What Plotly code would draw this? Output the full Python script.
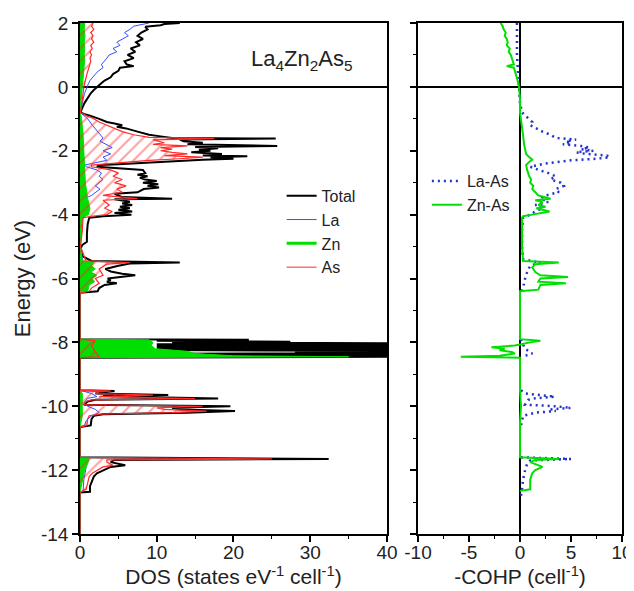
import plotly.graph_objects as go

# ---------------- DOS data (energy in eV, DOS in states/eV/cell) ----------------
total_E = [2.0, 1.97, 1.93, 1.88, 1.8, 1.7, 1.6, 1.5, 1.4, 1.3, 1.2, 1.1, 1.0, 0.9, 0.8, 0.7, 0.65, 0.6, 0.5, 0.4,
           0.3, 0.2, 0.1, 0.0, -0.1, -0.2, -0.3, -0.4, -0.5, -0.6, -0.7, -0.8,
           -0.85, -0.9, -1.0, -1.1, -1.15, -1.2, -1.25, -1.3, -1.4, -1.5, -1.55, -1.6, -1.62, -1.65, -1.7, -1.75,
           -1.8, -1.85, -1.88, -1.92, -1.97, -2.0, -2.05, -2.1, -2.15, -2.17, -2.2, -2.25, -2.28, -2.32, -2.38,
           -2.42, -2.45, -2.5, -2.55, -2.6, -2.7, -2.75, -2.8, -2.85, -2.9, -2.95, -3.0, -3.05, -3.1, -3.15, -3.2,
           -3.3, -3.35, -3.45, -3.5, -3.52, -3.6, -3.65, -3.7, -3.75, -3.8, -3.85, -3.9, -3.95, -4.0, -4.05, -4.1,
           -4.3, -4.6, -4.85, -4.95, -5.05, -5.3, -5.45,
           -5.5, -5.53, -5.6, -5.65, -5.7, -5.78, -5.85, -5.9, -5.95, -6.0, -6.05, -6.1, -6.15, -6.2, -6.3, -6.4, -6.45,
           -7.9, -7.92, -7.95, -7.98, -8.0, -8.03, -8.06, -8.09, -8.12, -8.15, -8.18, -8.21, -8.24, -8.27, -8.3,
           -8.33, -8.36, -8.39, -8.42, -8.45, -8.48,
           -9.5, -9.52, -9.55, -9.6, -9.65, -9.68, -9.72, -9.76, -9.8, -9.85, -9.95, -10.0, -10.05, -10.1, -10.15,
           -10.2, -10.25, -10.3, -10.4, -10.5, -10.6, -10.65,
           -11.6, -11.65, -11.68, -11.75, -11.8, -11.85, -11.9, -12.0, -12.1, -12.2, -12.35, -12.5, -12.68, -12.7, -14.0]
total_dos = [13.0, 11.0, 10.5, 8.5, 8.8, 8.0, 7.5, 8.2, 7.3, 7.8, 6.6, 7.2, 6.2, 7.0, 5.8, 6.1, 7.0, 5.2, 5.0, 4.3,
             4.0, 3.2, 2.7, 2.2, 1.8, 1.4, 1.1, 0.8, 0.6, 0.4, 0.2, 0.05,
             0.5, 1.3, 2.5, 3.5, 4.5, 5.5, 4.8, 6.0, 7.5, 9.0, 10.5, 12.0, 25.5, 13.0, 13.5, 16.0,
             14.0, 25.7, 15.0, 18.0, 15.5, 17.0, 14.5, 18.5, 16.0, 21.8, 17.0, 20.0, 16.0, 12.0, 8.0,
             5.0, 2.5, 2.2, 5.0, 8.2, 8.5, 7.5, 8.8, 7.8, 8.5, 10.0, 8.2, 10.2, 8.8, 10.3, 8.3,
             7.5, 4.5, 5.5, 12.0, 4.5, 6.5, 5.5, 6.8, 5.2, 6.5, 5.0, 6.8, 4.5, 6.7, 3.0, 1.2,
             1.0, 0.9, 0.9, 0.3, 0.1, 0.3, 1.5,
             13.0, 6.5, 5.0, 4.2, 3.3, 4.0, 5.5, 7.2, 5.0, 3.6, 4.0, 3.5, 4.8, 3.2, 2.5, 2.3, 0.0,
             0.0, 22.0, 10.0, 27.4, 12.0, 45.0, 10.0, 45.0, 10.0, 45.0, 10.0, 45.0, 10.0, 45.0, 28.0,
             45.0, 10.0, 45.0, 10.0, 45.0, 0.0,
             0.0, 4.5, 3.0, 2.0, 11.5, 3.0, 9.5, 18.0, 2.0, 1.0, 0.5, 19.6, 12.0, 13.0, 20.2,
             14.0, 3.0, 1.8, 1.5, 1.4, 1.4, 0.0,
             0.0, 32.4, 4.5, 4.0, 5.0, 5.9, 4.0, 3.0, 2.2, 1.8, 1.5, 1.3, 1.3, 0.0, 0.0]

la_E = [2.0, 1.95, 1.9, 1.8, 1.7, 1.6, 1.5, 1.4, 1.3, 1.2, 1.1, 1.0, 0.9, 0.8, 0.7, 0.6, 0.5, 0.4, 0.3, 0.2, 0.1,
        0.0, -0.2, -0.4, -0.6, -0.8,
        -0.9, -1.0, -1.2, -1.4, -1.6, -1.7, -1.8, -1.9, -2.0, -2.1, -2.2, -2.3, -2.4, -2.45, -2.5, -2.6, -2.7,
        -2.8, -2.9, -3.0, -3.1, -3.2, -3.3, -3.4, -3.5, -3.6, -3.8, -4.0, -4.1, -4.5, -5.0, -5.5, -5.6, -6.0,
        -6.4, -6.45, -7.9, -8.0, -8.4, -8.48,
        -9.5, -9.6, -9.7, -9.75, -9.9, -10.0, -10.1, -10.2, -10.3, -10.45, -10.6, -10.65,
        -11.6, -11.65, -11.9, -12.3, -12.65, -12.7, -14.0]
la_dos = [9.0, 8.0, 7.0, 6.5, 5.8, 6.3, 5.5, 4.8, 5.2, 4.3, 4.8, 3.8, 3.5, 3.2, 2.8, 3.0, 2.4, 2.0, 1.6, 1.3, 1.1,
          0.9, 0.6, 0.4, 0.2, 0.05,
          0.5, 1.0, 1.6, 2.3, 3.0, 2.6, 3.5, 4.2, 3.0, 4.0, 3.0, 3.5, 1.5, 0.6, 0.8, 2.2, 2.8,
          2.5, 3.0, 2.5, 2.0, 2.6, 2.0, 1.5, 0.6, 1.0, 0.8, 0.6, 0.3, 0.2, 0.05, 0.4, 0.6, 0.5,
          0.3, 0.0, 0.0, 0.3, 0.3, 0.0,
          0.0, 1.5, 2.2, 1.0, 0.5, 1.0, 2.0, 2.5, 1.5, 0.8, 0.6, 0.0,
          0.0, 1.0, 0.8, 0.5, 0.4, 0.0, 0.0]

zn_E = [2.0, 1.8, 1.6, 1.4, 1.2, 1.0, 0.8, 0.6, 0.4, 0.2, 0.0, -0.4, -0.8, -1.0, -1.5, -2.0, -2.5, -3.0, -3.5,
        -3.8, -4.0, -4.1, -5.0, -5.45, -5.5, -5.6, -5.7, -5.8, -5.9, -6.0, -6.1, -6.2, -6.4, -6.45,
        -7.9, -7.92, -8.0, -8.1, -8.2, -8.28, -8.35, -8.42, -8.45, -8.48,
        -9.5, -9.6, -10.0, -10.3, -10.65, -11.6, -11.65, -11.8, -12.0, -12.3, -12.7, -14.0]
zn_dos = [0.6, 0.55, 0.65, 0.55, 0.6, 0.55, 0.6, 0.5, 0.45, 0.4, 0.3, 0.15, 0.05, 0.2, 0.4, 0.5, 0.6, 0.7, 1.0,
          1.3, 1.1, 0.3, 0.05, 0.3, 1.8, 1.5, 2.0, 1.4, 2.2, 1.6, 1.9, 1.2, 1.0, 0.0,
          0.0, 9.0, 9.5, 9.3, 9.8, 14.0, 15.0, 20.0, 35.0, 0.0,
          0.0, 0.3, 0.3, 0.3, 0.0, 0.0, 1.2, 1.0, 0.6, 0.3, 0.0, 0.0]

as_E = [2.0, 1.9, 1.8, 1.7, 1.6, 1.5, 1.4, 1.3, 1.2, 1.1, 1.0, 0.9, 0.8, 0.6, 0.4, 0.2, 0.0, -0.4, -0.8,
        -0.9, -1.0, -1.1, -1.2, -1.3, -1.4, -1.5, -1.58, -1.62, -1.66, -1.75, -1.8, -1.85, -1.9, -1.95, -2.0,
        -2.05, -2.1, -2.15, -2.2, -2.25, -2.3, -2.38, -2.45, -2.5, -2.6, -2.7, -2.8, -2.9, -3.0, -3.1, -3.2,
        -3.3, -3.4, -3.5, -3.55, -3.7, -3.8, -3.9, -4.0, -4.05, -4.1, -4.5, -5.0, -5.45, -5.5, -5.55, -5.7,
        -5.9, -6.0, -6.15, -6.3, -6.4, -6.45,
        -7.9, -7.95, -8.1, -8.3, -8.45, -8.48,
        -9.5, -9.52, -9.55, -9.6, -9.65, -9.7, -9.72, -9.76, -9.8, -9.85, -9.95, -10.0, -10.05, -10.1, -10.15,
        -10.2, -10.25, -10.3, -10.4, -10.6, -10.65,
        -11.6, -11.65, -11.68, -11.75, -11.85, -11.9, -12.0, -12.1, -12.2, -12.4, -12.6, -12.7, -14.0]
as_dos = [1.7, 1.5, 1.8, 1.4, 1.7, 1.5, 1.8, 1.4, 1.6, 1.3, 1.5, 1.3, 1.4, 1.1, 0.9, 0.7, 0.5, 0.3, 0.05,
          0.8, 1.8, 2.5, 3.5, 4.5, 5.5, 7.0, 9.0, 17.5, 9.5, 11.0, 9.5, 14.0, 10.5, 12.0, 10.5,
          12.0, 14.0, 11.0, 16.0, 13.0, 9.0, 5.0, 1.5, 1.5, 4.0, 5.0, 4.3, 5.5, 4.5, 6.0, 4.8,
          5.5, 3.0, 7.5, 3.0, 3.8, 3.2, 4.2, 3.5, 1.5, 0.4, 0.3, 0.05, 0.8, 6.5, 3.5, 2.5,
          3.0, 2.0, 2.5, 1.5, 1.2, 0.0,
          0.0, 2.0, 1.5, 2.0, 2.5, 0.0,
          0.0, 4.0, 2.5, 2.0, 9.5, 2.5, 8.0, 15.0, 1.5, 0.8, 0.4, 16.0, 10.0, 11.0, 16.5,
          12.0, 2.5, 1.2, 1.0, 0.9, 0.0,
          0.0, 25.0, 3.5, 3.5, 4.3, 3.0, 2.2, 1.6, 1.2, 1.0, 0.8, 0.0, 0.0]

# ---------------- -COHP data ----------------
laas_E = [2.0, 1.0, 0.5, 0.0, -0.5, -0.8, -0.9, -1.0, -1.1, -1.2, -1.3, -1.4, -1.5, -1.6, -1.65, -1.7, -1.75,
          -1.8, -1.85, -1.9, -1.95, -2.0, -2.05, -2.1, -2.15, -2.2, -2.25, -2.3, -2.4, -2.5, -2.6, -2.7, -2.8,
          -2.9, -3.0, -3.1, -3.2, -3.3, -3.4, -3.5, -3.6, -3.7, -3.8, -3.9, -4.0, -4.1, -4.5, -5.0, -5.4, -5.5,
          -5.6, -5.8, -6.0, -6.3, -6.45, None, -7.9, -8.0, -8.2, -8.35, -8.45, None,
          -9.5, -9.6, -9.65, -9.7, -9.75, -9.8, -9.95, -10.0, -10.05, -10.1, -10.15, -10.2, -10.3, -10.6, None,
          -11.6, -11.65, -11.7, -11.8, -12.0, -12.3, -12.6, -12.8]
laas_cohp = [-0.3, -0.3, -0.2, -0.1, 0.0, 0.2, 0.5, 0.8, 1.2, 1.0, 1.6, 2.2, 3.0, 3.5, 5.5, 4.5, 5.0,
             4.2, 6.0, 6.8, 6.0, 7.2, 5.5, 6.5, 8.5, 8.8, 7.5, 5.0, 2.5, 1.0, 1.8, 2.8, 3.5,
             3.0, 4.0, 4.3, 3.5, 3.8, 2.5, 2.0, 2.8, 1.5, 2.2, 1.5, 1.0, 0.3, 0.2, 0.2, 0.3, 2.0,
             1.0, 0.7, 0.5, 0.3, 0.1, None, 0.1, 0.2, 0.5, 1.2, 0.2, None,
             0.1, 0.5, 2.0, 3.4, 1.5, 0.8, 0.5, 3.5, 5.0, 3.0, 3.5, 1.5, 0.3, 0.1, None,
             0.1, 5.0, 1.0, 0.7, 0.5, 0.3, 0.2, 0.1]

znas_E = [2.0, 1.9, 1.8, 1.7, 1.6, 1.5, 1.4, 1.3, 1.2, 1.1, 1.0, 0.9, 0.8, 0.7, 0.65, 0.6, 0.5, 0.4, 0.3, 0.2,
          0.1, 0.0, -0.4, -0.8, -1.0, -1.2, -1.5, -1.8, -2.0, -2.1, -2.2, -2.28, -2.35, -2.45, -2.6, -2.8,
          -2.9, -3.0, -3.1, -3.2, -3.3, -3.4, -3.5, -3.55, -3.6, -3.7, -3.75, -3.8, -3.9, -3.95, -4.0, -4.05,
          -4.1, -5.0, -5.45, -5.5, -5.55, -5.65, -5.8, -5.9, -5.95, -6.0, -6.1, -6.15, -6.2, -6.35, -6.4,
          -7.9, -7.95, -8.0, -8.05, -8.1, -8.15, -8.2, -8.25, -8.3, -8.35, -8.42, -8.45, -8.48,
          -9.5, -10.0, -10.5, -11.6, -11.65, -11.68, -11.75, -11.9, -12.0, -12.1, -12.3, -12.6, -12.65]
znas_cohp = [-1.9, -1.7, -1.6, -1.4, -1.5, -1.3, -1.2, -1.3, -1.0, -1.1, -0.9, -0.8, -0.7, -0.6, -1.3, -0.6,
             -0.5, -0.4, -0.3, -0.2, -0.15, -0.1, 0.0, 0.0, 0.1, 0.2, 0.3, 0.4, 0.5, 0.6, 0.9, 1.2, 0.9, 0.6,
             0.7, 0.9, 1.1, 1.0, 1.3, 1.2, 1.5, 1.8, 3.0, 1.5, 2.2, 1.8, 2.5, 1.6, 2.9, 1.8, 1.2, 0.3,
             0.2, 0.2, 0.3, 3.8, 1.5, 1.2, 1.5, 2.0, 4.7, 2.0, 1.8, 4.5, 2.0, 1.8, 0.0,
             0.0, 2.0, 1.0, 0.3, -0.5, -2.8, -1.5, -2.0, -0.8, -0.5, -2.0, -5.8, 0.0,
             0.0, 0.1, 0.0, 0.0, 3.8, 1.5, 1.0, 2.2, 1.5, 1.2, 1.0, 1.0, 0.0]

# tick labels
y_ticks = [2, 0, -2, -4, -6, -8, -10, -12, -14]
y_ticktext = ["2", "0", "-2", "-4", "-6", "-8", "-10", "-12", "-14"]
dos_ticks = [0, 10, 20, 30, 40]
dos_ticktext = ["0", "10", "20", "30", "40"]
cohp_ticks = [-10, -5, 0, 5, 10]
cohp_ticktext = ["-10", "-5", "0", "5", "10"]

BLACK = "#000000"
BLUE = "#3050ff"
GREEN = "#00e000"
RED = "#ff2a2a"
FONT = "Liberation Sans, Arial, sans-serif"
TXT = "#222"

fig = go.Figure()

fig.add_trace(go.Scatter(x=total_dos, y=total_E, mode="lines", name="Total",
                         line=dict(color=BLACK, width=2), xaxis="x", yaxis="y",
                         legend="legend", legendrank=1))
fig.add_trace(go.Scatter(x=la_dos, y=la_E, mode="lines", name="La",
                         line=dict(color=BLUE, width=1), xaxis="x", yaxis="y",
                         legend="legend", legendrank=2))
fig.add_trace(go.Scatter(x=zn_dos, y=zn_E, mode="lines", name="Zn", showlegend=False,
                         line=dict(color=GREEN, width=1), fill="tozerox", fillcolor=GREEN,
                         xaxis="x", yaxis="y"))
fig.add_trace(go.Scatter(x=as_dos, y=as_E, mode="lines", name="As", showlegend=False,
                         line=dict(color=RED, width=1.2), fill="tozerox",
                         fillcolor="rgba(255,255,255,0)",
                         fillpattern=dict(shape="/", fgcolor="rgba(255,40,40,0.9)",
                                          bgcolor="rgba(255,255,255,0)", size=9, solidity=0.22),
                         xaxis="x", yaxis="y"))
# legend entries for the filled series (shown as lines, as in the reference legend)
fig.add_trace(go.Scatter(x=[None], y=[None], mode="lines", name="Zn",
                         line=dict(color=GREEN, width=3), xaxis="x", yaxis="y",
                         legend="legend", legendrank=3))
fig.add_trace(go.Scatter(x=[None], y=[None], mode="lines", name="As",
                         line=dict(color=RED, width=1), xaxis="x", yaxis="y",
                         legend="legend", legendrank=4))

fig.add_trace(go.Scatter(x=laas_cohp, y=laas_E, mode="lines", name="La-As",
                         line=dict(color="#2233cc", width=2.5, dash="2px,4px"), connectgaps=False,
                         xaxis="x2", yaxis="y2", legend="legend2"))
fig.add_trace(go.Scatter(x=znas_cohp, y=znas_E, mode="lines", name="Zn-As",
                         line=dict(color=GREEN, width=2), xaxis="x2", yaxis="y2", legend="legend2"))

axis_common = dict(showline=True, linecolor=BLACK, linewidth=1.5, mirror=True, showgrid=False,
                   ticks="outside", ticklen=6, tickwidth=1.5, tickcolor=BLACK, automargin=False,
                   layer="above traces",
                   tickfont=dict(family=FONT, size=19, color=TXT))

# The page body adds an 8px offset, so the figure is sized to fill the rest of the window.
fig.update_layout(
    width=626, height=583,
    margin=dict(l=72, r=12, t=15, b=57),
    paper_bgcolor="white", plot_bgcolor="white",
    font=dict(family=FONT, color=TXT),
    showlegend=True,
    xaxis=dict(domain=[0, 0.5664], range=[0, 40], tickvals=dos_ticks, ticktext=dos_ticktext,
               zeroline=False, anchor="y", ticklabelstandoff=-6,
               minor=dict(ticks="outside", ticklen=3, tickwidth=1.2, tickcolor=BLACK, dtick=5, tick0=0),
               title=dict(text="DOS (states eV<sup>-1</sup> cell<sup>-1</sup>)",
                          font=dict(family=FONT, size=21, color=TXT), standoff=8),
               **axis_common),
    yaxis=dict(domain=[0, 1], range=[-14, 2], tickvals=y_ticks, ticktext=y_ticktext,
               zeroline=True, zerolinecolor=BLACK, zerolinewidth=1.5, anchor="x",
               minor=dict(ticks="outside", ticklen=3, tickwidth=1.2, tickcolor=BLACK, dtick=1, tick0=0),
               title=dict(text="Energy (eV)", font=dict(family=FONT, size=22, color=TXT), standoff=4),
               **axis_common),
    xaxis2=dict(domain=[0.6236, 1], range=[-10, 10], tickvals=cohp_ticks, ticktext=cohp_ticktext,
                zeroline=True, zerolinecolor=BLACK, zerolinewidth=1.5, anchor="y2", ticklabelstandoff=-6,
                minor=dict(ticks="outside", ticklen=3, tickwidth=1.2, tickcolor=BLACK, dtick=2.5, tick0=0),
                title=dict(text="-COHP (cell<sup>-1</sup>)", font=dict(family=FONT, size=21, color=TXT),
                           standoff=8),
                **axis_common),
    yaxis2=dict(domain=[0, 1], range=[-14, 2], tickvals=y_ticks, showticklabels=False,
                zeroline=True, zerolinecolor=BLACK, zerolinewidth=1.5, anchor="x2", matches="y",
                minor=dict(ticks="outside", ticklen=3, tickwidth=1.2, tickcolor=BLACK, dtick=1, tick0=0),
                **axis_common),
    legend=dict(x=0.372, y=0.695, xanchor="left", yanchor="top", bgcolor="rgba(0,0,0,0)",
                font=dict(family=FONT, size=16, color=TXT), tracegroupgap=0),
    legend2=dict(x=0.64, y=0.724, xanchor="left", yanchor="top", bgcolor="rgba(0,0,0,0)",
                 font=dict(family=FONT, size=16, color=TXT), tracegroupgap=0),
    annotations=[dict(text="La<sub>4</sub>Zn<sub>2</sub>As<sub>5</sub>", xref="x", yref="y",
                      x=35.8, y=0.85, xanchor="right", yanchor="middle", showarrow=False,
                      font=dict(family=FONT, size=22, color=TXT))],
)

fig.write_html("out.html")
